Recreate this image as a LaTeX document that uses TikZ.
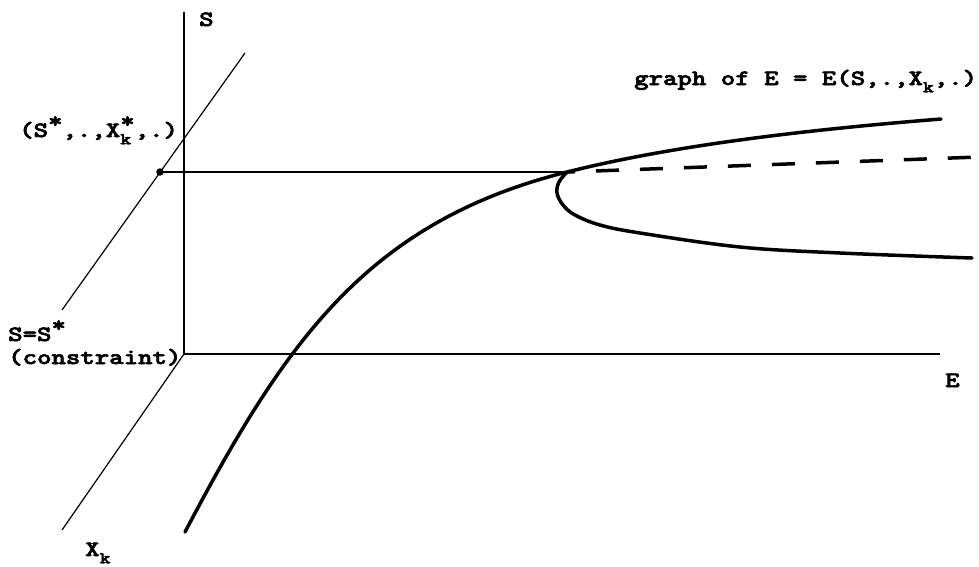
\documentclass[tikz,border=0pt]{standalone}
\usepackage{fontspec}
\usepackage{graphicx}
\usepackage{tikz}
\usetikzlibrary{positioning}
\newfontfamily\plotfont{lmmonolt10-bold.otf}[FakeBold=2.5]
\newcommand{\wide}[1]{\scalebox{1.25}[1]{#1}}
\newcommand{\ksub}{\raisebox{-0.33em}{\scalebox{0.75}{k}}}
\newcommand{\sstar}{\raisebox{0.42em}{*}}
\newcommand{\kstar}{\rlap{\raisebox{-0.33em}{\scalebox{0.75}{k}}}\raisebox{0.42em}{*}}

\begin{document}
\begin{tikzpicture}[x=1pt, y=-1pt, font=\plotfont\fontsize{22}{26}\selectfont,
    axis/.style={line width=1.5pt},
    diag/.style={line width=1.2pt},
    branch/.style={line width=3.5pt, line cap=round},
    lbl/.style={inner sep=0pt, anchor=base west}]
    \useasboundingbox (0,0) rectangle (979,566);
    \coordinate (O) at (184,354);
    \coordinate (Stop) at (184,12);
    \coordinate (Eend) at (940,354);
    \coordinate (Xend) at (62,530);
    \coordinate (Dtop) at (245,53);
    \coordinate (Dbot) at (62,310);
    \coordinate (low) at (185,532);
    \coordinate (tip) at (567,172);
    \coordinate (upR) at (941,119);
    \coordinate (loR) at (972,258);
    \coordinate (farR) at (979,157);
    \node[circle, fill, inner sep=0pt, minimum size=7.5pt] (pt) at (160,172) {};

    \draw[axis] (Stop) -- (O) -- (Eend);
    \draw[diag] (O) -- (Xend);
    \draw[diag] (Dtop) -- (Dbot);
    \draw[axis] (pt.center) -- (tip);
    \draw[branch] (low) .. controls (285,342) and (367,222) .. (tip)
        .. controls (667,147) and (791,131) .. (upR);
    \draw[branch] plot[smooth, tension=0.6] coordinates {(567,172) (559,182) (557,193) (563,205) (575,215) (600,225) (640,233) (740,247) (840,253) (972,258)};
    \draw[line width=3.5pt, dash pattern=on 23pt off 21pt, dash phase=15pt] (tip) -- (farR);

    \node[lbl] (lS) at (199,26) {\wide{S}};
    \node[lbl] (lgraph) at (634,85) {\wide{graph of E = E(S,.,X\ksub,.)}};
    \node[lbl] (lpoint) at (19,137) {\wide{(S\sstar,.,X\kstar,.)}};
    \node[lbl] (lE) at (945,387) {\wide{E}};
    \node[lbl] (lSS) at (8,341) {\wide{S=S\sstar}};
    \node[lbl] (lcons) at (8,364) {\wide{(constraint)}};
    \node[lbl] (lX) at (85,556) {\wide{X\ksub}};
\end{tikzpicture}
\end{document}
